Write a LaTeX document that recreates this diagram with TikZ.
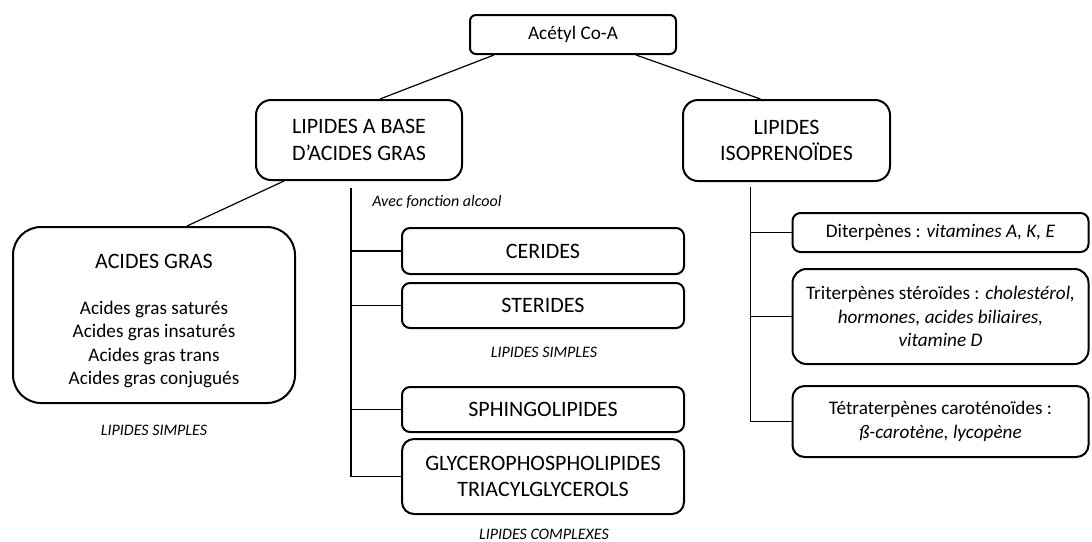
\documentclass[tikz,border=0pt]{standalone}
\usepackage{fontspec}
\setmainfont{Carlito}
\usetikzlibrary{calc}

\tikzset{
  boite/.style={draw,line width=1pt,rounded corners=4pt,align=center,inner sep=2pt},
  grand/.style={font=\fontsize{11}{13.4}\selectfont},
  normal/.style={font=\fontsize{9.6}{11.7}\selectfont},
  note/.style={font=\fontsize{8}{9.6}\selectfont\itshape},
  trait/.style={line width=0.6pt}
}

\begin{document}
\begin{tikzpicture}[x=0.5pt,y=-0.5pt]
\useasboundingbox (0,0) rectangle (1092,541);

% haut
\node[boite,normal,rounded corners=3pt,minimum width=103pt,minimum height=19.5pt] (acetyl) at (573,34.5) {Acétyl Co-A};
\node[boite,grand,rounded corners=7.5pt,minimum width=103pt,minimum height=40pt] (lab) at (359,140) {LIPIDES A BASE\\D’ACIDES GRAS};
\node[boite,grand,rounded corners=7.5pt,minimum width=103.5pt,minimum height=40.5pt] (iso) at (786.5,140.5) {LIPIDES\\ISOPRENOÏDES};

% acides gras
\node[boite,normal,rounded corners=14pt,minimum width=141pt,minimum height=88pt] (acides) at (154,315)
  {{\fontsize{11}{13.4}\selectfont\rule{0pt}{13pt}ACIDES GRAS}\\[11.5pt]Acides gras saturés\\Acides gras insaturés\\Acides gras trans\\Acides gras conjugués};

% lipides a base d'acides gras
\node[boite,grand,minimum width=141pt,minimum height=23pt] (cerides) at (543,251) {CERIDES};
\node[boite,grand,minimum width=141pt,minimum height=22.5pt] (sterides) at (543,305.5) {STERIDES};
\node[boite,grand,minimum width=141pt,minimum height=22.5pt] (sphingo) at (543,409.5) {SPHINGOLIPIDES};
\node[boite,grand,rounded corners=6pt,minimum width=141pt,minimum height=37.5pt] (glycero) at (543,476.5) {GLYCEROPHOSPHOLIPIDES\\TRIACYLGLYCEROLS};

% isoprenoides
\node[boite,normal,minimum width=148pt,minimum height=19.5pt] (diterp) at (940.5,232.5) {Diterpènes : \textit{vitamines A, K, E}};
\node[boite,normal,rounded corners=7pt,minimum width=148pt,minimum height=47.5pt] (triterp) at (940.5,316.5)
  {Triterpènes stéroïdes : \textit{cholestérol,}\\\textit{hormones, acides biliaires,}\\\textit{vitamine D}};
\node[boite,normal,rounded corners=6pt,minimum width=148pt,minimum height=35.5pt] (tetra) at (940.5,421.5)
  {Tétraterpènes caroténoïdes :\\\textit{ß-carotène, lycopène}};

% notes
\node[note] (alcool) at (437,202) {Avec fonction alcool};
\node[note] (simpleA) at (154,430) {LIPIDES SIMPLES};
\node[note] (simpleB) at (544,352) {LIPIDES SIMPLES};
\node[note] (complexe) at (544,534) {LIPIDES COMPLEXES};

% liens
\draw[trait] ([xshift=12.5pt]acetyl.south west) -- ([xshift=10.5pt]lab.north);
\draw[trait] ([xshift=-20.5pt]acetyl.south east) -- ([xshift=-13pt]iso.north);
\draw[trait] ([xshift=14.5pt]lab.south west) -- ([xshift=16.5pt]acides.north);

\coordinate (troncG) at ([xshift=-4pt,yshift=-3.5pt]lab.south);
\foreach \b in {cerides,sterides,sphingo,glycero}
  \draw[trait] (troncG) |- (\b.west);

\coordinate (troncD) at ([xshift=-18pt,yshift=-2.5pt]iso.south);
\foreach \b in {diterp,triterp,tetra}
  \draw[trait] (troncD) |- (\b.west);
\end{tikzpicture}
\end{document}
